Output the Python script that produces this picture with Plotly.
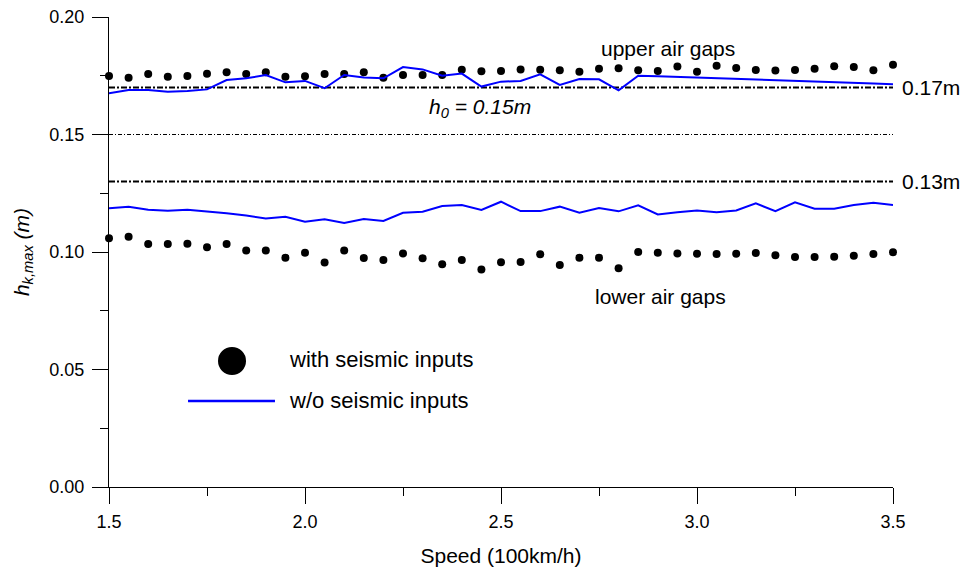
import plotly.graph_objects as go

speed = [1.50, 1.55, 1.60, 1.65, 1.70, 1.75, 1.80, 1.85, 1.90, 1.95,
         2.00, 2.05, 2.10, 2.15, 2.20, 2.25, 2.30, 2.35, 2.40, 2.45,
         2.50, 2.55, 2.60, 2.65, 2.70, 2.75, 2.80, 2.85, 2.90, 2.95,
         3.00, 3.05, 3.10, 3.15, 3.20, 3.25, 3.30, 3.35, 3.40, 3.45, 3.50]

upper_seismic = [0.1749, 0.1742, 0.1757, 0.1746, 0.1749, 0.1759, 0.1765, 0.1757, 0.1765, 0.1746,
                 0.1748, 0.1757, 0.1757, 0.1765, 0.1742, 0.1753, 0.1753, 0.1753, 0.1776, 0.1769,
                 0.1770, 0.1777, 0.1776, 0.1773, 0.1767, 0.1780, 0.1782, 0.1773, 0.1770, 0.1789,
                 0.1767, 0.1793, 0.1783, 0.1774, 0.1772, 0.1774, 0.1780, 0.1790, 0.1787, 0.1773, 0.1797]

upper_no_seismic = [0.1675, 0.1689, 0.1689, 0.1682, 0.1685, 0.1692, 0.1732, 0.1739, 0.1753, 0.1722,
                    0.1728, 0.1697, 0.1753, 0.1743, 0.1739, 0.1787, 0.1777, 0.1750, 0.1759, 0.1704,
                    0.1725, 0.1728, 0.1756, 0.1711, 0.1736, 0.1735, 0.1688, 0.1750, 0.1748, 0.1745,
                    0.1741, 0.1738, 0.1735, 0.1733, 0.1731, 0.1729, 0.1726, 0.1723, 0.1720, 0.1717, 0.1714]

lower_seismic = [0.1058, 0.1065, 0.1034, 0.1034, 0.1035, 0.1020, 0.1034, 0.1006, 0.1006, 0.0976,
                 0.0997, 0.0955, 0.1006, 0.0974, 0.0966, 0.0994, 0.0973, 0.0948, 0.0966, 0.0926,
                 0.0956, 0.0957, 0.0990, 0.0945, 0.0976, 0.0976, 0.0931, 0.1000, 0.0997, 0.0994,
                 0.0993, 0.0991, 0.0993, 0.0996, 0.0986, 0.0979, 0.0979, 0.0980, 0.0984, 0.0991, 0.0999]

lower_no_seismic = [0.1186, 0.1193, 0.1180, 0.1176, 0.1180, 0.1174, 0.1165, 0.1155, 0.1143, 0.1150,
                    0.1129, 0.1139, 0.1123, 0.1140, 0.1132, 0.1167, 0.1171, 0.1196, 0.1200, 0.1179,
                    0.1214, 0.1174, 0.1174, 0.1193, 0.1167, 0.1187, 0.1173, 0.1199, 0.1160, 0.1169,
                    0.1177, 0.1169, 0.1177, 0.1207, 0.1174, 0.1211, 0.1184, 0.1184, 0.1200, 0.1210, 0.1200]

ref_levels = [0.17, 0.15, 0.13]
ref_labels = ["0.17m", "", "0.13m"]
x_ticks = [1.5, 2.0, 2.5, 3.0, 3.5]
y_ticks = [0.00, 0.05, 0.10, 0.15, 0.20]

FONT = "Liberation Sans, Arial, sans-serif"
BLUE = "#0000FF"

fig = go.Figure()

for ys in (upper_seismic, lower_seismic):
    fig.add_trace(go.Scatter(x=speed, y=ys, mode="markers",
                             marker=dict(color="black", size=8),
                             cliponaxis=False, showlegend=False, hoverinfo="x+y"))
for ys in (upper_no_seismic, lower_no_seismic):
    fig.add_trace(go.Scatter(x=speed, y=ys, mode="lines",
                             line=dict(color=BLUE, width=2),
                             cliponaxis=False, showlegend=False, hoverinfo="x+y"))

shapes = []
for lvl in ref_levels:
    if lvl == 0.15:
        ln = dict(color="black", width=1, dash="4px,2px,1px,2px")
    else:
        ln = dict(color="black", width=2, dash="6px,2px,2px,2px")
    shapes.append(dict(type="line", xref="x", yref="y", x0=x_ticks[0], x1=x_ticks[-1],
                       y0=lvl, y1=lvl, line=ln, layer="below"))

# legend keys
shapes.append(dict(type="circle", xref="paper", yref="paper",
                   xsizemode="pixel", ysizemode="pixel",
                   xanchor=0.1569, yanchor=0.2681, x0=-14, x1=14, y0=-14, y1=14,
                   fillcolor="black", line=dict(color="black", width=0)))
shapes.append(dict(type="line", xref="paper", yref="paper", x0=0.1008, x1=0.2117,
                   y0=0.183, y1=0.183, line=dict(color=BLUE, width=2.5)))

annotations = []
for lvl, lab in zip(ref_levels, ref_labels):
    if lab:
        annotations.append(dict(x=x_ticks[-1], y=lvl, xref="x", yref="y", text=lab,
                                showarrow=False, xanchor="left", yanchor="middle", xshift=7,
                                font=dict(size=21, color="black", family=FONT)))
annotations += [
    dict(x=2.926, y=0.1868, xref="x", yref="y", text="upper air gaps", showarrow=False,
         font=dict(size=21, color="black", family=FONT)),
    dict(x=2.446, y=0.1613, xref="x", yref="y", text="<i>h<sub>0</sub> = 0.15m</i>", showarrow=False,
         font=dict(size=21, color="black", family=FONT)),
    dict(x=2.906, y=0.0809, xref="x", yref="y", text="lower air gaps", showarrow=False,
         font=dict(size=21, color="black", family=FONT)),
    dict(x=0.227, y=0.272, xref="paper", yref="paper", text="with seismic inputs", showarrow=False,
         xanchor="left", yanchor="middle", font=dict(size=22, color="black", family=FONT)),
    dict(x=0.227, y=0.183, xref="paper", yref="paper", text="w/o seismic inputs", showarrow=False,
         xanchor="left", yanchor="middle", font=dict(size=22, color="black", family=FONT)),
]

fig.update_layout(
    width=962, height=563,
    margin=dict(l=101, r=77, t=9, b=84, autoexpand=False),
    paper_bgcolor="white", plot_bgcolor="white",
    font=dict(family=FONT, color="black"),
    shapes=shapes, annotations=annotations,
    xaxis=dict(range=[1.5, 3.5], tickvals=x_ticks, ticktext=[f"{v:.1f}" for v in x_ticks],
               automargin=False, ticklabeloverflow="allow",
               showline=True, linecolor="black", linewidth=1, showgrid=False, zeroline=False,
               ticks="outside", ticklen=16, tickcolor="black", tickwidth=1,
               minor=dict(dtick=0.25, ticks="outside", ticklen=8, tickcolor="black", tickwidth=1, showgrid=False),
               tickfont=dict(size=18), ticklabelstandoff=2,
               title=dict(text="Speed (100km/h)", font=dict(size=21), standoff=17)),
    yaxis=dict(range=[0, 0.2], tickvals=y_ticks, ticktext=[f"{v:.2f}" for v in y_ticks],
               automargin=False, ticklabeloverflow="allow",
               showline=True, linecolor="black", linewidth=1, showgrid=False, zeroline=False,
               ticks="outside", ticklen=16, tickcolor="black", tickwidth=1,
               minor=dict(dtick=0.025, ticks="outside", ticklen=8, tickcolor="black", tickwidth=1, showgrid=False),
               tickfont=dict(size=18), ticklabelstandoff=4,
               title=dict(text="<i>h<sub>k,max</sub> (m)</i>", font=dict(size=21), standoff=14)),
)

fig.write_html("out.html")
